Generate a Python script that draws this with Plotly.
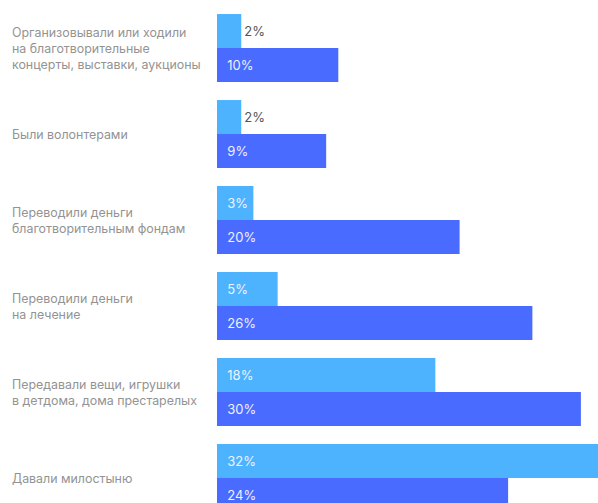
import plotly.graph_objects as go

categories = [
    "Организовывали или ходили<br>на благотворительные<br>концерты, выставки, аукционы",
    "Были волонтерами",
    "Переводили деньги<br>благотворительным фондам",
    "Переводили деньги<br>на лечение",
    "Передавали вещи, игрушки<br>в детдома, дома престарелых",
    "Давали милостыню",
]
series_a = [2, 2, 3, 5, 18, 32]
series_b = [10, 9, 20, 26, 30, 24]
color_a = "#4db3ff"
color_b = "#4a6bff"

W, H = 598, 503
left = 217
px_per_unit = 12.13
pitch = 86
first_center = 48


def texts(vals):
    return ["  " + f"{v}%" if v >= 3 else f"{v}%" for v in vals]


def positions(vals):
    return ["inside" if v >= 3 else "outside" for v in vals]


fig = go.Figure()
for vals, col in [(series_a, color_a), (series_b, color_b)]:
    fig.add_trace(go.Bar(
        y=categories, x=vals, orientation="h",
        marker=dict(color=col, line=dict(width=0)),
        text=texts(vals), textposition=positions(vals),
        insidetextanchor="start",
        insidetextfont=dict(color="#eef2ff", size=13, family="Inter"),
        outsidetextfont=dict(color="#555555", size=13, family="Inter"),
        cliponaxis=True,
        showlegend=False,
        hoverinfo="skip",
    ))

for c in categories:
    fig.add_annotation(
        x=(10 - left) / (W - left), xref="paper", xanchor="left",
        y=c, yref="y", yanchor="middle",
        text=c, align="left", showarrow=False,
        font=dict(color="#939393", size=12.4, family="Inter"),
    )

fig.update_layout(
    width=W, height=H,
    margin=dict(l=left, r=0, t=0, b=0),
    barmode="group", bargap=0.21, bargroupgap=0,
    plot_bgcolor="white", paper_bgcolor="white",
    xaxis=dict(range=[0, (W - left) / px_per_unit], visible=False, fixedrange=True),
    yaxis=dict(range=[(H - first_center) / pitch, -first_center / pitch],
               showticklabels=False, showgrid=False, zeroline=False, fixedrange=True),
    uniformtext=dict(mode=False),
)

fig.write_html("out.html", config={"displayModeBar": False})
